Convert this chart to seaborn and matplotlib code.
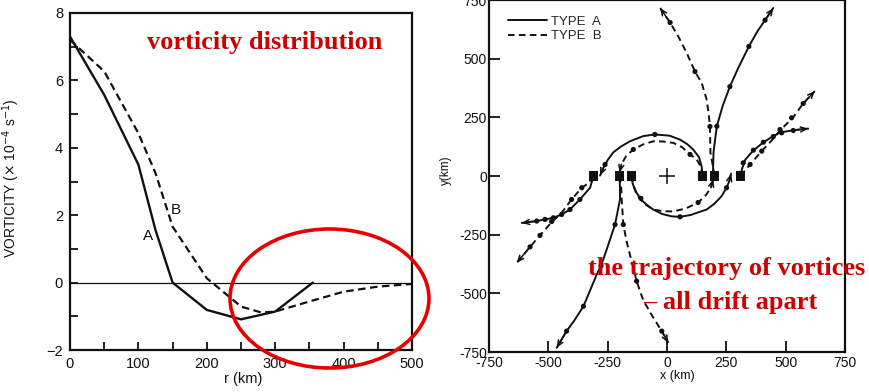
import matplotlib
matplotlib.use("Agg")
import matplotlib.pyplot as plt
from matplotlib.patches import Ellipse
from matplotlib.lines import Line2D
import seaborn as sns

# ---------------- radial vorticity profiles ----------------
r_A = [0, 50, 100, 125, 150, 200, 250, 300, 355]
vort_A = [7.3, 5.57, 3.5, 1.56, 0.0, -0.81, -1.09, -0.86, 0.0]
r_B = [0, 50, 100, 125, 150, 200, 250, 280, 300, 350, 400, 450, 500]
vort_B = [7.2, 6.27, 4.43, 3.25, 1.66, 0.13, -0.71, -0.89, -0.86, -0.56, -0.27, -0.12, -0.04]

r_ticks = [0, 100, 200, 300, 400, 500]
r_minor = [50, 150, 250, 350, 450]
v_ticks = [-2, 0, 2, 4, 6, 8]
v_tick_labels = ["\u22122", "0", "2", "4", "6", "8"]
v_minor = [-1, 1, 3, 5, 7]

# ---------------- vortex trajectories (km) ----------------
# type A, initial separation 300 km
a1n_x = [150, 146, 135, 110, 85, 55, 10, -51, -100, -156, -195, -227, -250, -268, -282]
a1n_y = [0, 40, 80, 113, 136, 155, 172, 177, 170, 148, 125, 100, 68, 35, 2]
a1s_x = [-150, -144, -128, -105, -80, -58, -20, 20, 55, 100, 140, 167, 200, 230, 251, 263, 270]
a1s_y = [0, -35, -72, -105, -127, -143, -162, -172, -174, -166, -152, -143, -118, -86, -50, -20, 10]
# type B, initial separation 300 km
b1n_x = [150, 142, 124, 97, 65, 27, -17, -58, -100, -142, -172, -192, -200]
b1n_y = [0, 42, 72, 92, 122, 141, 147, 148, 135, 113, 85, 50, 15]
b1s_x = [-150, -142, -128, -100, -58, -15, 27, 80, 131, 165, 185, 195]
b1s_y = [0, -40, -79, -115, -143, -150, -151, -138, -113, -80, -50, -14]
# type A, initial separation 400 km
a2n_x = [200, 194, 196, 202, 210, 235, 265, 300, 345, 380, 413, 448]
a2n_y = [0, 27, 100, 150, 212, 300, 381, 460, 552, 615, 664, 716]
a2s_x = [-200, -198, -198, -219, -254, -278, -296, -352, -390, -423, -465]
a2s_y = [0, -50, -100, -207, -313, -383, -420, -555, -615, -661, -732]
# type B, initial separation 400 km
b2n_x = [200, 192, 183, 181, 175, 167, 146, 118, 85, 50, 13, -29]
b2n_y = [0, 50, 100, 211, 270, 326, 397, 445, 520, 590, 654, 716]
b2s_x = [-200, -193, -191, -184, -170, -150, -128, -100, -60, -22, 6]
b2s_y = [0, -50, -100, -207, -280, -360, -448, -530, -600, -661, -711]
# type A, initial separation 620 km
a3n_x = [310, 316, 330, 362, 404, 440, 475, 531, 595]
a3n_y = [0, 30, 70, 107, 142, 165, 185, 195, 202]
a3s_x = [-310, -324, -367, -409, -444, -479, -514, -549, -612]
a3s_y = [0, -50, -100, -143, -164, -178, -185, -192, -200]
# type B, initial separation 620 km
b3n_x = [310, 330, 350, 399, 446, 481, 531, 573, 623]
b3n_y = [0, 25, 49, 106, 157, 199, 249, 308, 362]
b3s_x = [-310, -330, -359, -402, -444, -486, -535, -577, -633]
b3s_y = [0, -30, -50, -100, -157, -197, -253, -302, -370]

# time marks along the tracks
dot_x = [-51, -261, 55, 251, 97, -142, -110, 131,
         210, 265, 345, 413, -219, -278, -352, -423,
         181, 118, 13, -184, -128, -22,
         321, 364, 406, 448, 483, 532, -367, -409, -444, -479, -514, -549,
         350, 399, 476, 525, 574, -359, -402, -486, -535, -577]
dot_y = [177, 49, -174, -50, 92, 113, -95, -113,
         212, 381, 552, 664, -207, -383, -555, -661,
         211, 445, 654, -207, -448, -661,
         56, 110, 144, 168, 184, 194, -100, -143, -164, -178, -185, -192,
         49, 106, 198, 248, 309, -50, -100, -194, -253, -302]

# initial vortex positions
start_x = [-310, -200, -150, 150, 200, 310]
start_y = [0, 0, 0, 0, 0, 0]

xy_ticks = [-750, -500, -250, 0, 250, 500, 750]
xy_tick_labels = ["-750", "-500", "-250", "0", "250", "500", "750"]

sns.set_theme(style="ticks")
plt.rcParams["font.family"] = ["Liberation Sans", "DejaVu Sans"]
plt.rcParams["mathtext.fontset"] = "dejavusans"

fig = plt.figure(figsize=(8.69, 3.92), dpi=100)
ax1 = fig.add_axes([70 / 869, 1 - 350 / 392, 342 / 869, 337 / 392])
ax2 = fig.add_axes([489 / 869, 1 - 352 / 392, 356 / 869, 352 / 392])

ink = "#111111"
red = "#cc0000"

# ---- left panel ----
sns.lineplot(x=r_A, y=vort_A, ax=ax1, color=ink, lw=1.7, sort=False, estimator=None)
sns.lineplot(x=r_B, y=vort_B, ax=ax1, color=ink, lw=1.6, sort=False, estimator=None,
             linestyle=(0, (3.4, 2.0)))
ax1.axhline(0, color=ink, lw=0.9)
ax1.text(114, 1.37, "A", fontsize=11, ha="center", va="center", color=ink)
ax1.text(155, 2.16, "B", fontsize=11, ha="center", va="center", color=ink)

ax1.set_xlim(0, 500)
ax1.set_ylim(-2, 8)
ax1.set_xticks(r_ticks)
ax1.set_xticks(r_minor, minor=True)
ax1.set_yticks(v_ticks)
ax1.set_yticklabels(v_tick_labels)
ax1.set_yticks(v_minor, minor=True)
ax1.tick_params(which="both", direction="in", length=6, width=1.3, color=ink,
                labelsize=10.5, labelcolor=ink)
ax1.tick_params(axis="x", pad=5)
ax1.tick_params(axis="y", pad=5)
for s in ax1.spines.values():
    s.set_linewidth(1.6)
    s.set_color(ink)
ax1.set_xlabel("r (km)", fontsize=10.5, color=ink)
ax1.set_ylabel(r"VORTICITY ($\times$ 10$^{-4}$ s$^{-1}$)", fontsize=10, color=ink)
ax1.xaxis.set_label_coords(0.506, -0.066)
ax1.yaxis.set_label_coords(-0.14, 0.51)

# ---- right panel ----
solid_kw = dict(ax=ax2, color=ink, lw=1.4, sort=False, estimator=None)
dash_kw = dict(ax=ax2, color=ink, lw=1.4, sort=False, estimator=None,
               linestyle=(0, (3.4, 2.2)))
solid_tracks = [(a1n_x, a1n_y), (a1s_x, a1s_y), (a2n_x, a2n_y), (a2s_x, a2s_y),
                (a3n_x, a3n_y), (a3s_x, a3s_y)]
dashed_tracks = [(b1n_x, b1n_y), (b1s_x, b1s_y), (b2n_x, b2n_y), (b2s_x, b2s_y),
                 (b3n_x, b3n_y), (b3s_x, b3s_y)]
for xs, ys in solid_tracks:
    sns.lineplot(x=xs, y=ys, **solid_kw)
for xs, ys in dashed_tracks:
    sns.lineplot(x=xs, y=ys, **dash_kw)

# small open arrowheads showing the direction of drift at the end of each track
for xs, ys in solid_tracks + dashed_tracks:
    ax2.annotate("", xy=(xs[-1], ys[-1]), xytext=(xs[-2], ys[-2]),
                 arrowprops=dict(arrowstyle="->,head_length=0.35,head_width=0.15",
                                 color=ink, lw=1.1, shrinkA=0, shrinkB=0))

sns.scatterplot(x=dot_x, y=dot_y, ax=ax2, color=ink, s=14, marker="o",
                edgecolor="none", zorder=4)
sns.scatterplot(x=start_x, y=start_y, ax=ax2, color=ink, s=42, marker="s",
                edgecolor="none", zorder=5)
sns.scatterplot(x=[0], y=[0], ax=ax2, color=ink, s=120, marker="+",
                linewidth=1.1, zorder=5)

ax2.set_xlim(-750, 750)
ax2.set_ylim(-750, 750)
ax2.set_xticks(xy_ticks)
ax2.set_xticklabels(xy_tick_labels)
ax2.set_yticks(xy_ticks)
ax2.set_yticklabels(xy_tick_labels)
ax2.tick_params(direction="in", length=8, width=1.3, color=ink, labelsize=10,
                labelcolor=ink)
ax2.tick_params(axis="y", pad=1.5)
ax2.tick_params(axis="x", pad=3)
for s in ax2.spines.values():
    s.set_linewidth(1.6)
    s.set_color(ink)
ax2.set_xlabel("x (km)", fontsize=9, color=ink)
ax2.set_ylabel("y(km)", fontsize=8.5, color=ink)
ax2.xaxis.set_label_coords(0.53, -0.052)
ax2.yaxis.set_label_coords(-0.104, 0.517)

handles = [Line2D([], [], color=ink, lw=1.4),
           Line2D([], [], color=ink, lw=1.4, linestyle=(0, (3.4, 2.2)))]
ax2.legend(handles, ["TYPE  A", "TYPE  B"], loc="upper left",
           bbox_to_anchor=(0.053, 0.955), frameon=False, fontsize=9.5,
           handlelength=3.0, handletextpad=0.25, labelspacing=0.15,
           borderpad=0, borderaxespad=0)

# ---- annotations ----
serif = ["Liberation Serif", "DejaVu Serif"]
fig.text(265 / 869, 1 - 43 / 392, "vorticity distribution", color=red,
         fontsize=19, fontweight="bold", family=serif,
         ha="center", va="center")
fig.text(727 / 869, 1 - 268 / 392, "the trajectory of vortices", color=red,
         fontsize=19, fontweight="bold", family=serif,
         ha="center", va="center")
fig.text(730 / 869, 1 - 302 / 392, "\u2013 all drift apart", color=red,
         fontsize=19, fontweight="bold", family=serif,
         ha="center", va="center")

ring = Ellipse((329.5 / 869, 1 - 298.5 / 392), 199 / 869, 139 / 392,
               transform=fig.transFigure, fill=False, edgecolor="#e60000",
               lw=2.6, zorder=10)
fig.add_artist(ring)

fig.savefig("out.png", dpi=100)
